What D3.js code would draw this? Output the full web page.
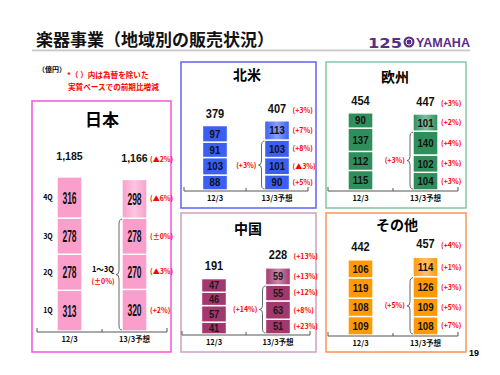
<!DOCTYPE html>
<html>
<head>
<meta charset="utf-8">
<script src="https://cdn.jsdelivr.net/npm/d3@7"></script>
<style>
  body { margin: 0; background: #fff; }
  svg { display: block; font-family: "Noto Sans CJK JP", "Liberation Sans", sans-serif; }
  .num { font-family: "Liberation Sans", sans-serif; font-weight: bold; }
  .pct { font-family: "Noto Sans CJK JP", sans-serif; font-weight: bold; fill: #ff0000; font-size: 7px; }
</style>
</head>
<body>
<svg id="chart" width="500" height="375"></svg>
<script>
// data (億円), quarters bottom to top
const years = ["12/3", "13/3予想"];
const quarters = ["1Q", "2Q", "3Q", "4Q"];

const jpPrev = [313, 278, 278, 316];
const jpPlan = [320, 270, 278, 298];
const jpPct = ["(+2%)", "(▲3%)", "(±0%)", "(▲6%)"];
const jpTotalPct = "(▲2%)";
const jpQ13Pct = "(±0%)";

const naPrev = [88, 103, 91, 97];
const naPlan = [90, 101, 103, 113];
const naPct = ["(+5%)", "(▲3%)", "(+8%)", "(+7%)"];
const naTotalPct = "(+3%)";
const naQ13Pct = "(+3%)";

const euPrev = [115, 112, 137, 90];
const euPlan = [104, 102, 140, 101];
const euPct = ["(+3%)", "(+3%)", "(+4%)", "(+2%)"];
const euTotalPct = "(+3%)";
const euQ13Pct = "(+3%)";

const cnPrev = [41, 57, 46, 47];
const cnPlan = [51, 63, 55, 59];
const cnPct = ["(+23%)", "(+8%)", "(+12%)", "(+13%)"];
const cnTotalPct = "(+13%)";
const cnQ13Pct = "(+14%)";

const otPrev = [109, 108, 119, 106];
const otPlan = [108, 109, 126, 114];
const otPct = ["(+7%)", "(+5%)", "(+3%)", "(+1%)"];
const otTotalPct = "(+4%)";
const otQ13Pct = "(+5%)";

const svg = d3.select("#chart");
const defs = svg.append("defs");
const fmt = d3.format(",");

// narrow bold number, squeezed horizontally
function narrowText(sel, x, y, size, sx, txt) {
  return sel.append("text").attr("class", "num")
    .attr("transform", `translate(${x},${y}) scale(${sx},1)`)
    .attr("text-anchor", "middle").attr("font-size", size)
    .text(txt);
}

// header
svg.append("text").attr("x", 36).attr("y", 46)
  .attr("font-size", 17).attr("font-weight", "bold").attr("fill", "#111")
  .text("楽器事業（地域別の販売状況）");
svg.append("rect").attr("x", 32).attr("y", 49.5).attr("width", 438).attr("height", 1.8).attr("fill", "#c8c8c8");

// logo
const logo = svg.append("g").attr("fill", "#5b2d86");
logo.append("text").attr("x", 368).attr("y", 47.5).attr("font-size", 14).attr("font-weight", "bold")
  .attr("font-family", "DejaVu Sans").attr("textLength", 34).attr("lengthAdjust", "spacingAndGlyphs").text("125");
logo.append("circle").attr("cx", 409).attr("cy", 42).attr("r", 5.5);
logo.append("circle").attr("cx", 409).attr("cy", 42).attr("r", 3).attr("fill", "none").attr("stroke", "#fff").attr("stroke-width", 1);
logo.append("text").attr("x", 416).attr("y", 47).attr("font-size", 12.5).attr("font-weight", "bold")
  .attr("font-family", "Liberation Sans").attr("textLength", 54).attr("lengthAdjust", "spacingAndGlyphs").text("YAMAHA");

svg.append("text").attr("x", 38).attr("y", 72).attr("font-size", 7).attr("font-weight", "bold").text("（億円）");
svg.append("text").attr("x", 67).attr("y", 78).attr("font-size", 7.6).attr("font-weight", "bold").attr("fill", "#ff0000").text("*（ ）内は為替を除いた");
svg.append("text").attr("x", 68).attr("y", 90).attr("font-size", 7.6).attr("font-weight", "bold").attr("fill", "#ff0000").text("実質ベースでの前期比増減");

function panel(p) {
  const g = svg.append("g");
  g.append("rect")
    .attr("x", p.box[0]).attr("y", p.box[1])
    .attr("width", p.box[2] - p.box[0]).attr("height", p.box[3] - p.box[1])
    .attr("fill", "#fff").attr("stroke", p.frame).attr("stroke-width", 1.6);

  g.append("text").attr("x", p.titleX).attr("y", p.titleY)
    .attr("text-anchor", "middle").attr("font-size", p.titleSize).attr("font-weight", "bold")
    .text(p.name);

  const x = d3.scaleBand().domain(years).range([p.ax0, p.ax1]);
  const maxTotal = d3.max([d3.sum(p.prev), d3.sum(p.plan)]);
  const y = d3.scaleLinear().domain([0, maxTotal]).range([p.ay, p.ay - maxTotal * p.k]);
  const bw = 25;

  // gradient for forecast 4Q
  const gid = "grad" + p.id;
  const grad = defs.append("linearGradient").attr("id", gid).attr("x1", 0).attr("x2", 1).attr("y1", 0).attr("y2", 0);
  const light = d3.interpolateRgb(p.color, "#ffffff")(0.4);
  grad.append("stop").attr("offset", 0).attr("stop-color", p.color);
  grad.append("stop").attr("offset", 0.5).attr("stop-color", light);
  grad.append("stop").attr("offset", 1).attr("stop-color", p.color);

  [p.prev, p.plan].forEach((vals, ci) => {
    const cum = d3.cumsum(vals);
    const cx = x(years[ci]) + x.bandwidth() / 2;
    const segs = vals.map((v, i) => ({ v, i, y0: cum[i] - v, y1: cum[i] }));
    g.selectAll(null).data(segs).enter().append("rect")
      .attr("x", cx - bw / 2).attr("width", bw)
      .attr("y", d => y(d.y1)).attr("height", d => y(d.y0) - y(d.y1))
      .attr("fill", d => (ci === 1 && d.i === 3) ? `url(#${gid})` : p.color)
      .attr("stroke", "#fff").attr("stroke-width", 1.4);
    segs.forEach(d => {
      narrowText(g, cx, (y(d.y0) + y(d.y1)) / 2 + p.numSize * 0.36, p.numSize, p.numSx, d.v)
        .attr("fill", p.numColor);
    });
    // totals
    const tot = d3.sum(vals);
    narrowText(g, cx, y(tot) - p.totalGap, p.totalSize, 0.92, fmt(tot)).attr("fill", "#111");
    if (ci === 1) {
      g.append("text").attr("class", "pct")
        .attr("x", cx + bw / 2 + 3).attr("y", y(tot) - p.totalGap)
        .text(p.totalPct);
      g.selectAll(null).data(segs).enter().append("text")
        .attr("class", "pct")
        .attr("x", cx + bw / 2 + 3).attr("y", d => (y(d.y0) + y(d.y1)) / 2 + 2.5)
        .text(d => p.pct[d.i]);
      // brace for 1~3Q
      const bx = cx - bw / 2 - 3;
      const yt = y(cum[2]) + 1, yb = y(0) - 1, ym = (yt + yb) / 2;
      g.append("path")
        .attr("d", `M${bx + 3},${yt} Q${bx},${yt} ${bx},${yt + 5} L${bx},${ym - 4} Q${bx},${ym} ${bx - 3},${ym} Q${bx},${ym} ${bx},${ym + 4} L${bx},${yb - 5} Q${bx},${yb} ${bx + 3},${yb}`)
        .attr("fill", "none").attr("stroke", "#555").attr("stroke-width", 0.9);
      if (p.q13Label) {
        g.append("text").attr("x", bx - 16).attr("y", ym - 3).attr("text-anchor", "middle")
          .attr("font-size", 7.5).attr("font-weight", "bold").text("1〜3Q");
        g.append("text").attr("class", "pct").attr("x", bx - 16).attr("y", ym + 9).attr("text-anchor", "middle")
          .text(p.q13Pct);
      } else {
        g.append("text").attr("class", "pct").attr("x", bx - 5).attr("y", ym + 2.5).attr("text-anchor", "end")
          .text(p.q13Pct);
      }
    }
    if (ci === 0 && p.showQ) {
      g.selectAll(null).data(segs).enter().append("text")
        .attr("x", p.ax0 + 11).attr("y", d => (y(d.y0) + y(d.y1)) / 2 + 2.5)
        .attr("text-anchor", "middle").attr("font-size", 7).attr("font-weight", "bold")
        .text(d => quarters[d.i]);
    }
  });

  // axis line with end / middle ticks
  const mid = x(years[1]);
  g.append("path")
    .attr("d", `M${p.ax0},${p.ay - 3}V${p.ay + 1}H${p.ax1}V${p.ay - 3}M${mid},${p.ay + 1}V${p.ay - 2}`)
    .attr("fill", "none").attr("stroke", "#555").attr("stroke-width", 1);
  const axis = g.append("g").attr("transform", `translate(0,${p.ay + 4})`)
    .call(d3.axisBottom(x).tickSize(0).tickPadding(0));
  axis.select(".domain").remove();
  axis.selectAll("text").attr("font-size", 7.5).attr("font-weight", "bold")
    .attr("font-family", "Noto Sans CJK JP").attr("fill", "#111").attr("dy", "0.9em");
}

panel({ id: "jp", name: "日本", prev: jpPrev, plan: jpPlan, pct: jpPct, totalPct: jpTotalPct, q13Pct: jpQ13Pct,
  box: [32, 101, 171, 352], ax0: 37, ax1: 167, ay: 331, k: 0.13, totalGap: 17, totalSize: 11.5,
  titleX: 102, titleY: 126, titleSize: 17, color: "#fa9fcb", frame: "#f65ee0", numColor: "#111",
  numSize: 17, numSx: 0.5, showQ: true, q13Label: true });
panel({ id: "na", name: "北米", prev: naPrev, plan: naPlan, pct: naPct, totalPct: naTotalPct, q13Pct: naQ13Pct,
  box: [181, 62, 316, 208], ax0: 184, ax1: 308, ay: 190, k: 0.17, totalGap: 8, totalSize: 12,
  titleX: 247, titleY: 80, titleSize: 14, color: "#3a5ff2", frame: "#6a6af6", numColor: "#111",
  numSize: 11, numSx: 0.88 });
panel({ id: "eu", name: "欧州", prev: euPrev, plan: euPlan, pct: euPct, totalPct: euTotalPct, q13Pct: euQ13Pct,
  box: [326, 62, 466, 208], ax0: 328, ax1: 458, ay: 190, k: 0.17, totalGap: 8, totalSize: 12,
  titleX: 395, titleY: 82, titleSize: 14, color: "#2f8f5c", frame: "#8ccaa8", numColor: "#111",
  numSize: 11, numSx: 0.88 });
panel({ id: "cn", name: "中国", prev: cnPrev, plan: cnPlan, pct: cnPct, totalPct: cnTotalPct, q13Pct: cnQ13Pct,
  box: [181, 213, 316, 352], ax0: 182, ax1: 310, ay: 334, k: 0.29, totalGap: 9, totalSize: 12,
  titleX: 248, titleY: 234, titleSize: 14, color: "#a3386f", frame: "#d3a5c5", numColor: "#1a1a1a",
  numSize: 10.5, numSx: 0.88 });
panel({ id: "ot", name: "その他", prev: otPrev, plan: otPlan, pct: otPct, totalPct: otTotalPct, q13Pct: otQ13Pct,
  box: [326, 213, 466, 352], ax0: 328, ax1: 458, ay: 335, k: 0.17, totalGap: 9, totalSize: 12,
  titleX: 397, titleY: 230, titleSize: 14, color: "#ff9a05", frame: "#ff9a5e", numColor: "#111",
  numSize: 11, numSx: 0.88 });

svg.append("text").attr("x", 469).attr("y", 356).attr("font-size", 9).attr("font-weight", "bold")
  .attr("font-family", "Liberation Sans").text("19");
</script>
</body>
</html>
